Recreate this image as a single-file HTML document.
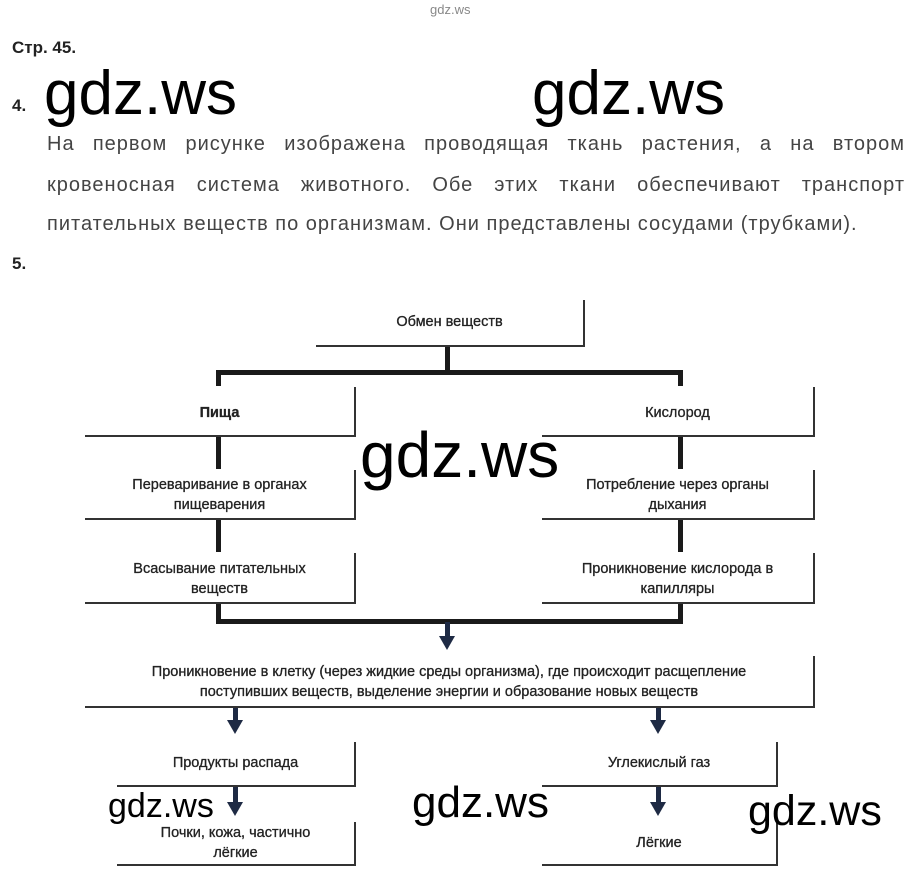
<!DOCTYPE html>
<html><head><meta charset="utf-8"><style>
body{margin:0;width:916px;height:886px;background:#fff;position:relative;overflow:hidden;font-family:"Liberation Sans",sans-serif}
.a{position:absolute}
.t{position:absolute;text-align:center;font-size:14.5px;color:#222;line-height:20px;-webkit-text-stroke:0.3px #222}
.box{position:absolute;border-right:2px solid #333;border-bottom:2px solid #333}
.l{position:absolute;background:#1a1a1a}
.wm{position:absolute;font-family:"Liberation Sans",sans-serif;color:#000}
.arr{position:absolute;width:0;height:0;border-left:8px solid transparent;border-right:8px solid transparent;border-top:14px solid #1e2a44}
.p{position:absolute;left:47px;width:858px;font-size:20px;letter-spacing:1px;color:#444;line-height:26px;text-align:justify;text-align-last:justify;white-space:nowrap}
</style></head><body>
<div class="a" style="left:430px;top:2px;font-size:13px;color:#888">gdz.ws</div>
<div class="a" style="left:12px;top:38px;font-size:17px;font-weight:bold;color:#222">Стр. 45.</div>
<div class="a" style="left:12px;top:96px;font-size:17px;font-weight:bold;color:#222">4.</div>
<div class="wm" style="left:44px;top:58px;font-size:62px">gdz.ws</div>
<div class="wm" style="left:532px;top:58px;font-size:62px">gdz.ws</div>
<div class="p" style="top:131px;white-space:normal;height:26px;overflow:hidden">На первом рисунке изображена проводящая ткань растения, а на втором</div>
<div class="p" style="top:172px;white-space:normal;height:26px;overflow:hidden">кровеносная система животного. Обе этих ткани обеспечивают транспорт</div>
<div class="p" style="top:211px;text-align:left;text-align-last:left;width:870px">питательных веществ по организмам. Они представлены сосудами (трубками).</div>
<div class="a" style="left:12px;top:254px;font-size:17px;font-weight:bold;color:#222">5.</div>

<div class="box" style="left:316px;top:300px;width:267px;height:45px"></div>
<div class="t" style="left:316px;top:312px;width:267px">Обмен веществ</div>
<div class="box" style="left:85px;top:387px;width:269px;height:48px"></div>
<div class="t" style="left:85px;top:403px;width:269px;font-weight:bold">Пища</div>
<div class="box" style="left:85px;top:470px;width:269px;height:48px"></div>
<div class="t" style="left:85px;top:475px;width:269px">Переваривание в органах<br>пищеварения</div>
<div class="box" style="left:85px;top:553px;width:269px;height:49px"></div>
<div class="t" style="left:85px;top:559px;width:269px">Всасывание питательных<br>веществ</div>
<div class="box" style="left:542px;top:387px;width:271px;height:48px"></div>
<div class="t" style="left:542px;top:403px;width:271px">Кислород</div>
<div class="box" style="left:542px;top:470px;width:271px;height:48px"></div>
<div class="t" style="left:542px;top:475px;width:271px">Потребление через органы<br>дыхания</div>
<div class="box" style="left:542px;top:553px;width:271px;height:49px"></div>
<div class="t" style="left:542px;top:559px;width:271px">Проникновение кислорода в<br>капилляры</div>
<div class="box" style="left:85px;top:656px;width:728px;height:50px"></div>
<div class="t" style="left:85px;top:662px;width:728px">Проникновение в клетку (через жидкие среды организма), где происходит расщепление<br>поступивших веществ, выделение энергии и образование новых веществ</div>
<div class="box" style="left:117px;top:742px;width:237px;height:43px"></div>
<div class="t" style="left:117px;top:753px;width:237px">Продукты распада</div>
<div class="box" style="left:117px;top:822px;width:237px;height:42px"></div>
<div class="t" style="left:117px;top:823px;width:237px">Почки, кожа,  частично<br>лёгкие</div>
<div class="box" style="left:542px;top:742px;width:234px;height:43px"></div>
<div class="t" style="left:542px;top:753px;width:234px">Углекислый газ</div>
<div class="box" style="left:542px;top:822px;width:234px;height:42px"></div>
<div class="t" style="left:542px;top:833px;width:234px">Лёгкие</div>

<div class="l" style="left:445px;top:347px;width:5px;height:26px"></div>
<div class="l" style="left:216px;top:370px;width:467px;height:5px"></div>
<div class="l" style="left:216px;top:370px;width:5px;height:16px"></div>
<div class="l" style="left:678px;top:370px;width:5px;height:16px"></div>
<div class="l" style="left:216px;top:437px;width:5px;height:32px"></div>
<div class="l" style="left:678px;top:437px;width:5px;height:32px"></div>
<div class="l" style="left:216px;top:520px;width:5px;height:32px"></div>
<div class="l" style="left:678px;top:520px;width:5px;height:32px"></div>
<div class="l" style="left:216px;top:604px;width:5px;height:20px"></div>
<div class="l" style="left:678px;top:604px;width:5px;height:20px"></div>
<div class="l" style="left:216px;top:619px;width:467px;height:5px"></div>
<div class="l" style="left:445px;top:622px;width:5px;height:16px;background:#1e2a44"></div>
<div class="arr" style="left:439px;top:636px"></div>
<div class="l" style="left:233px;top:708px;width:5px;height:14px;background:#1e2a44"></div>
<div class="arr" style="left:227px;top:720px"></div>
<div class="l" style="left:656px;top:708px;width:5px;height:14px;background:#1e2a44"></div>
<div class="arr" style="left:650px;top:720px"></div>
<div class="l" style="left:233px;top:787px;width:5px;height:16px;background:#1e2a44"></div>
<div class="arr" style="left:227px;top:802px"></div>
<div class="l" style="left:656px;top:787px;width:5px;height:16px;background:#1e2a44"></div>
<div class="arr" style="left:650px;top:802px"></div>

<div class="wm" style="left:360px;top:418px;font-size:64px">gdz.ws</div>
<div class="wm" style="left:108px;top:787px;font-size:34px">gdz.ws</div>
<div class="wm" style="left:412px;top:778px;font-size:44px">gdz.ws</div>
<div class="wm" style="left:748px;top:787px;font-size:43px">gdz.ws</div>
</body></html>
